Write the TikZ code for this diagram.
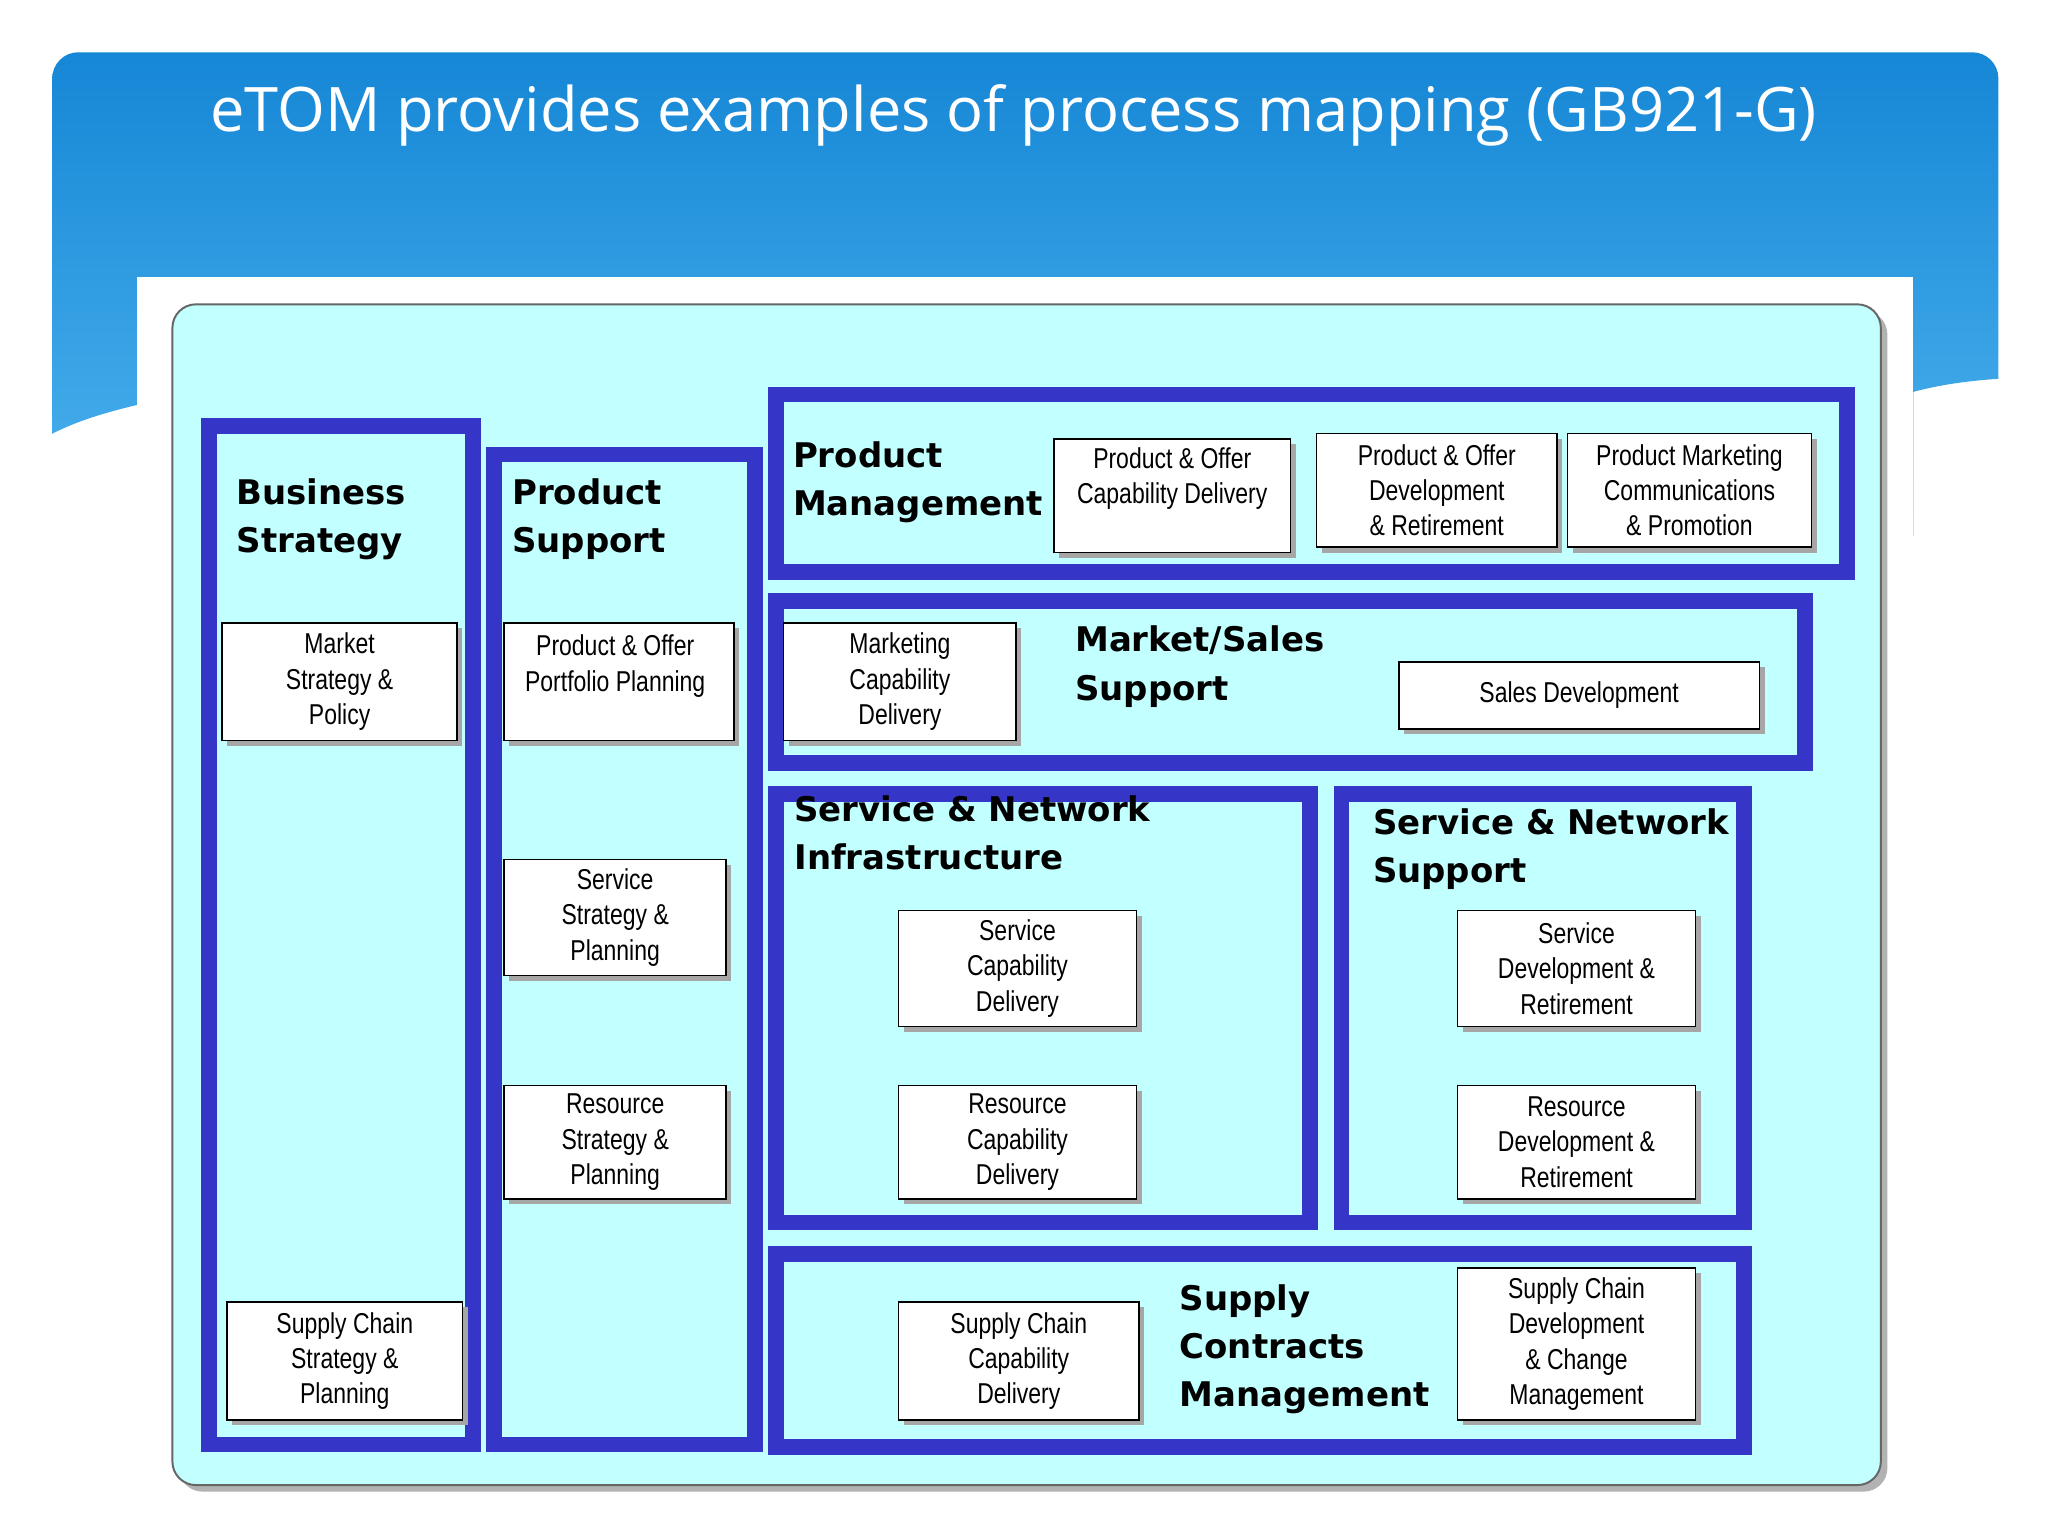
\documentclass[tikz,border=0pt]{standalone}
\usepackage{fontspec}
\setmainfont{Liberation Sans}
\newfontfamily\nar{Liberation Sans}[FakeStretch=0.8]
\newfontfamily\ttl{DejaVu Sans}
\newfontfamily\hdr{Open Sans}
\usetikzlibrary{shadows}
\definecolor{fr}{HTML}{3535C8}
\definecolor{cy}{HTML}{C2FFFF}
\definecolor{hb1}{HTML}{1687D6}
\definecolor{hb2}{HTML}{4DB3EE}
\tikzset{
 frame/.style={draw=fr,line width=12pt},
 btxt/.style={align=center,font=\nar\fontsize{22}{27}\selectfont},
 box/.style={draw=black,line width=1.2pt,fill=white,inner sep=2pt,btxt,
   drop shadow={shadow xshift=4pt,shadow yshift=-4pt,fill=gray!70,opacity=1}},
 title/.style={anchor=north west,align=left,font=\ttl\bfseries\fontsize{26}{37}\selectfont,inner sep=0pt}
}
\newcommand{\bx}[6]{\node[box,minimum width={(#4-#2)*1pt},minimum height={(#5-#3)*1pt}] (#1) at ({(#2+#4)/2},{(#3+#5)/2}) {#6};}
\begin{document}
\begin{tikzpicture}[x=1pt,y=-1pt]
\useasboundingbox (0,0) rectangle (1568,1176);
\fill[white] (0,0) rectangle (1568,1176);
% header band
\shade[top color=hb1,bottom color=hb2,rounded corners=20pt] (40,332) -- (40,40) -- (1530,40) [sharp corners] -- (1530,290) .. controls (1500,292) and (1480,296) .. (1465,300) -- (1465,410) -- (105,410) -- (105,310) .. controls (80,316) and (60,322) .. (40,332) -- cycle;
\fill[white] (105,212) rectangle (1465,1176);
\node[font=\hdr\fontsize{47}{50}\selectfont,text=white] (hd) at (776,88) {eTOM provides examples of process mapping (GB921-G)};
% panel
\fill[gray!60,rounded corners=18pt] (137,238) rectangle (1445,1142);
\draw[gray!80!black,line width=1.5pt,fill=cy,rounded corners=18pt] (132,233) rectangle (1440,1137);
% frames
\draw[frame] (160,326) rectangle (362,1106);
\draw[frame] (378,348) rectangle (578,1106);
\draw[frame] (594,302) rectangle (1414,438);
\draw[frame] (594,460) rectangle (1382,584);
\draw[frame] (594,608) rectangle (1003,936);
\draw[frame] (1027,608) rectangle (1335,936);
\draw[frame] (594,960) rectangle (1335,1108);
% titles
\node[title] (t1) at (181,366) {Business\\Strategy};
\node[title] (t2) at (392,366) {Product\\Support};
\node[title] (t3) at (607,338) {Product\\Management};
\node[title] (t4) at (823,479) {Market/Sales\\Support};
\node[title] (t5) at (608,609) {Service \& Network\\Infrastructure};
\node[title] (t6) at (1051,619) {Service \& Network\\Support};
\node[title] (t7) at (903,983) {Supply\\Contracts\\Management};
% boxes
\bx{b1}{170}{477}{350}{567}{Market\\Strategy \&\\Policy}
\bx{b2}{174}{997}{354}{1087}{Supply Chain\\Strategy \&\\Planning}
\bx{b3}{386}{477}{562}{567}{}
\node[btxt] (b3t) at (471,510) {Product \& Offer\\Portfolio Planning};
\bx{b4}{386}{658}{556}{747}{Service\\Strategy \&\\Planning}
\bx{b5}{386}{831}{556}{918}{Resource\\Strategy \&\\Planning}
\bx{b6}{807}{336}{988}{423}{Product \& Offer\\Capability Delivery\\[4pt]}
\bx{b7}{1008}{332}{1192}{419}{Product \& Offer\\Development\\\& Retirement}
\bx{b8}{1200}{332}{1387}{419}{Product Marketing\\Communications\\\& Promotion}
\bx{b9}{600}{477}{778}{567}{Marketing\\Capability\\Delivery}
\bx{b10}{1071}{507}{1347}{558}{Sales Development}
\bx{b11}{688}{697}{870}{786}{Service\\Capability\\Delivery}
\bx{b12}{688}{831}{870}{918}{Resource\\Capability\\Delivery}
\bx{b13}{1116}{697}{1298}{786}{Service\\Development \&\\Retirement}
\bx{b14}{1116}{831}{1298}{918}{Resource\\Development \&\\Retirement}
\bx{b15}{688}{997}{872}{1087}{Supply Chain\\Capability\\Delivery}
\bx{b16}{1116}{971}{1298}{1087}{Supply Chain\\Development\\\& Change\\Management}
\end{tikzpicture}
\end{document}
